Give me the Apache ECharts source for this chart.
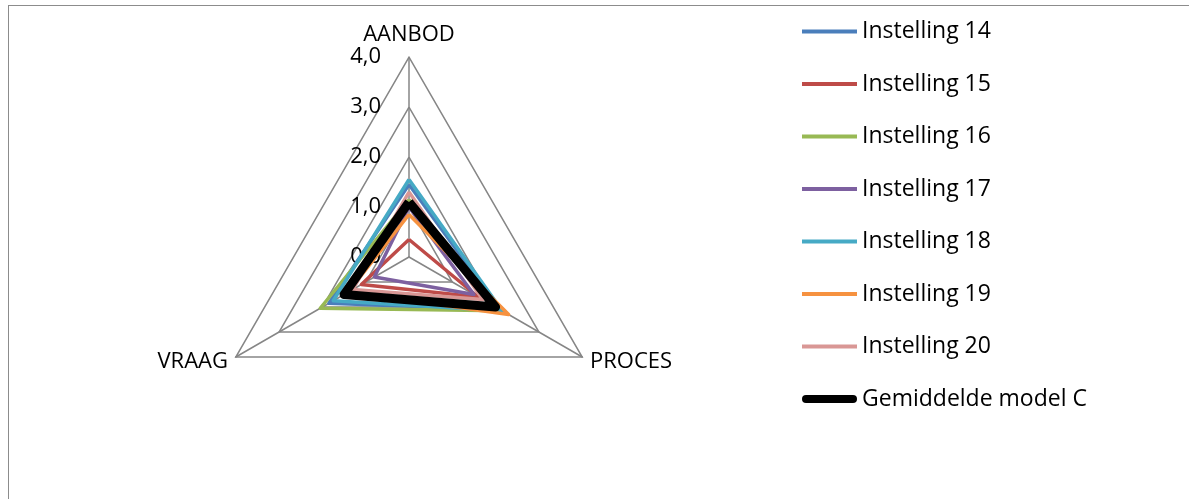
<!DOCTYPE html>
<html>
<head>
<meta charset="utf-8">
<script src="https://cdn.jsdelivr.net/npm/echarts@6/dist/echarts.min.js"></script>
<style>
  html, body { margin: 0; padding: 0; background: #fff; }
  #frame { position: absolute; left: 8px; top: 5px; width: 1300px; height: 600px; border-left: 1.5px solid #8c8c8c; border-top: 1.5px solid #8c8c8c; }
  #radar { position: absolute; left: 0; top: 0; width: 1189px; height: 499px; }
</style>
</head>
<body>
<div id="frame"></div>
<div id="radar"></div>
<script>
// radar runs counter-clockwise: AANBOD (top), VRAAG (left), PROCES (right)
var axes = ["AANBOD", "VRAAG", "PROCES"];
var names = ["Instelling 14", "Instelling 15", "Instelling 16", "Instelling 17", "Instelling 18", "Instelling 19", "Instelling 20", "Gemiddelde model C"];
var colors = ["#4a7ebb", "#be4b48", "#98b954", "#7d60a0", "#46aac5", "#f69240", "#d99795", "#000000"];

// values in axis order [AANBOD, VRAAG, PROCES]
var inst14 = [1.45, 1.85, 2.1];
var inst15 = [0.35, 1.1, 1.6];
var inst16 = [1.15, 2.05, 2.15];
var inst17 = [1.0, 0.8, 1.5];
var inst18 = [1.55, 1.75, 2.15];
var inst19 = [0.85, 1.4, 2.3];
var inst20 = [1.3, 1.3, 1.7];
var gemiddeld = [1.1, 1.5, 2.0];

var values = [inst14, inst15, inst16, inst17, inst18, inst19, inst20, gemiddeld];
var font = "Open Sans";

var myChart = echarts.init(document.getElementById("radar"));

var series = names.map(function (name, i) {
  var black = i === names.length - 1;
  return {
    name: name,
    type: "radar",
    symbol: "none",
    silent: true,
    lineStyle: { color: colors[i], width: black ? 9 : 3.5 },
    itemStyle: { color: colors[i] },
    data: [{ value: values[i], name: name }]
  };
});

var legendData = names.map(function (name, i) {
  var black = i === names.length - 1;
  return {
    name: name,
    icon: black ? "path://M4,0 L51,0 A4,4 0 0 1 51,8 L4,8 A4,4 0 0 1 4,0 Z" : "path://M0,0 L55,0 L55,4 L0,4 Z",
    itemStyle: { color: colors[i] }
  };
});

var option = {
  animation: false,
  legend: {
    orient: "vertical",
    left: 797,
    top: 15,
    itemWidth: 55,
    itemHeight: 8,
    itemGap: 29.5,
    data: legendData,
    textStyle: { fontFamily: font, fontSize: 23, lineHeight: 22, color: "#000" }
  },
  radar: {
    center: [409, 257],
    radius: 200,
    shape: "polygon",
    startAngle: 90,
    splitNumber: 4,
    nameGap: 9,
    axisName: { color: "#000", fontFamily: font, fontSize: 22 },
    indicator: axes.map(function (a, i) {
      var ind = { name: a, min: 0, max: 4 };
      if (i > 0) ind.axisLabel = { show: false };
      return ind;
    }),
    axisLine: { lineStyle: { color: "#868686", width: 1.5 } },
    splitLine: { lineStyle: { color: "#868686", width: 1.5 } },
    splitArea: { show: false },
    axisTick: { show: false },
    axisLabel: {
      show: true,
      margin: 28,
      color: "#000",
      fontFamily: font,
      fontSize: 22,
      formatter: function (v) { return v.toFixed(1).replace(".", ","); }
    }
  },
  series: series
};
myChart.setOption(option);
</script>
</body>
</html>
